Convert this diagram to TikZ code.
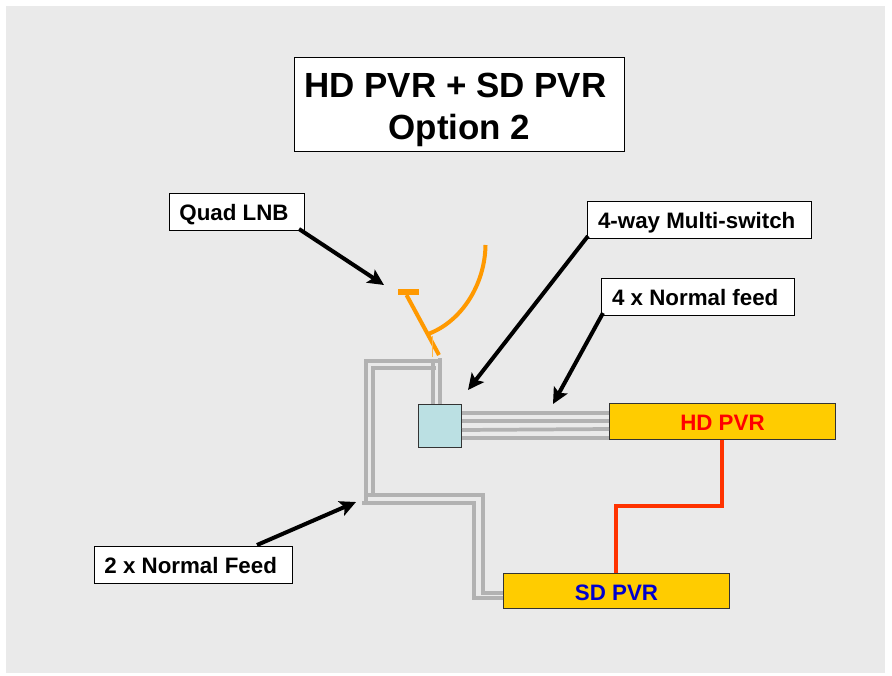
\documentclass[tikz,border=0pt]{standalone}
\usepackage{fontspec}
\setmainfont{Liberation Sans}
\usetikzlibrary{arrows.meta}
\definecolor{bgc}{HTML}{EAEAEA}
\definecolor{feed}{HTML}{B2B2B2}
\definecolor{dish}{HTML}{FF9900}
\definecolor{pvr}{HTML}{FFCC00}
\definecolor{msw}{HTML}{BBE0E3}
\definecolor{redl}{HTML}{FF3300}
\definecolor{sdblue}{HTML}{0000CC}
\tikzset{
  px/.style={x=0.75pt,y=-0.75pt},
  lab/.style={draw=black,line width=0.6pt,fill=white,minimum height=27.75pt,inner sep=0pt,text height=12.8pt,text depth=0pt,font=\bfseries\fontsize{16.75}{19}\selectfont,anchor=north west},
  box/.style={draw=black!80,line width=0.7pt,fill=pvr,inner sep=0pt,text height=14pt,text depth=0pt,font=\bfseries\fontsize{16.75}{19}\selectfont,anchor=north west},
  feedl/.style={draw=feed,line width=2.8pt,miter limit=10},
  dishl/.style={draw=dish,line width=3pt},
  ptr/.style={draw=black,line width=3pt,-{Stealth[length=12pt,width=11.5pt,inset=2.5pt]}},
}
\begin{document}
\begin{tikzpicture}[px]
\useasboundingbox (0,0) rectangle (892,675);
\fill[white] (0,0) rectangle (892,675);
\fill[bgc] (6,6) rectangle (885,673);
% boxes
\node[draw=black,line width=0.6pt,fill=white,inner sep=0pt,anchor=north west,minimum width=247.5pt,minimum height=70.5pt,align=center,font=\bfseries\fontsize{26.2}{31.5}\selectfont] (title) at (294,57) {\spaceskip=0pt\xspaceskip=0pt\rule{0pt}{26pt}HD PVR + SD PVR\kern6pt\\Option 2};
\node[lab,minimum width=101.25pt] (lnb) at (169,193) {\makebox[101.25pt][l]{\hspace*{7.5pt}Quad LNB}};
\node[lab,minimum width=168pt] (mswl) at (587,201) {\makebox[168pt][l]{\hspace*{8pt}4-way Multi-switch}};
\node[lab,minimum width=144.75pt] (nfl) at (601,278) {\makebox[144.75pt][l]{\hspace*{8pt}4 x Normal feed}};
\node[lab,minimum width=148.5pt] (tnl) at (94,546) {\makebox[148.5pt][l]{\hspace*{7.5pt}2 x Normal Feed}};
\node[draw=black!80,line width=0.7pt,fill=msw,minimum width=32pt,minimum height=32pt,inner sep=0pt,anchor=north west] (ms) at (418,404) {};
\node[box,minimum width=169.5pt,minimum height=27pt,text=red] (hd) at (609,403) {HD PVR};
\node[box,minimum width=169.5pt,minimum height=26.25pt,text=sdblue] (sd) at (503,573) {SD PVR};
% feed lines
\coordinate (a1) at (440,404); \coordinate (a2) at (440,358); \coordinate (a3) at (366,361);
\coordinate (a4) at (433,404); \coordinate (a5) at (433,361);
\coordinate (b1) at (436,368); \coordinate (b2) at (373,368); \coordinate (b3) at (373,495);
\coordinate (b0) at (368,495);
\coordinate (b4) at (483,495); \coordinate (b5) at (483,593); \coordinate (b6) at (503,593);
\coordinate (c0) at (366,503); \coordinate (c1) at (362,503); \coordinate (c2) at (474,503);
\coordinate (c3) at (474,598); \coordinate (c4) at (503,598);
\draw[feedl] (a1) -- (a2);
\draw[feedl] (a4) -- (a5);
\draw[feedl] (a2 |- a5) -- (a3) -- (c0);
\draw[feedl] (b1) -- (b2) -- (b3);
\draw[feedl] (b0) -- (b4) -- (b5) -- (b6);
\draw[feedl] (c1) -- (c2) -- (c3) -- (c4);
\foreach \i/\ya/\yb in {1/413/413,2/421/421,3/430/429,4/438/438}{
  \coordinate (m\i) at (462,\ya); \coordinate (h\i) at (609,\yb);
  \draw[feedl] (m\i) -- (h\i);
}
% red link
\coordinate (r2) at (722,506); \coordinate (r3) at (616,506);
\draw[draw=redl,line width=2.7pt,miter limit=10] (hd.south -| r2) -- (r2) -- (r3) -- (sd.north -| r3);
% dish
\coordinate (t1) at (398,292); \coordinate (t2) at (419,292);
\coordinate (s1) at (406.5,295); \coordinate (s2) at (439,355);
\coordinate (d1) at (485.5,245); \coordinate (d2) at (428,334);
\coordinate (f1) at (432.7,336); \coordinate (f2) at (432.7,357);
\draw[draw=dish,line width=4.5pt] (t1) -- (t2);
\draw[dishl] (s1) -- (s2);
\draw[dishl] (d1) .. controls (485,285) and (461,322) .. (d2);
\draw[draw=dish!70,line width=0.9pt] (f1) -- (f2);
% pointers
\coordinate (p1) at (384,285); \coordinate (p2) at (468,390); \coordinate (p3) at (553,404); \coordinate (p4) at (356,502);
\coordinate (q1) at (299,229); \coordinate (q2) at (588,236); \coordinate (q3) at (603,313); \coordinate (q4) at (257,545);
\draw[ptr] (q1) -- (p1);
\draw[ptr] (q2) -- (p2);
\draw[ptr] (q3) -- (p3);
\draw[ptr] (q4) -- (p4);
\end{tikzpicture}
\end{document}
